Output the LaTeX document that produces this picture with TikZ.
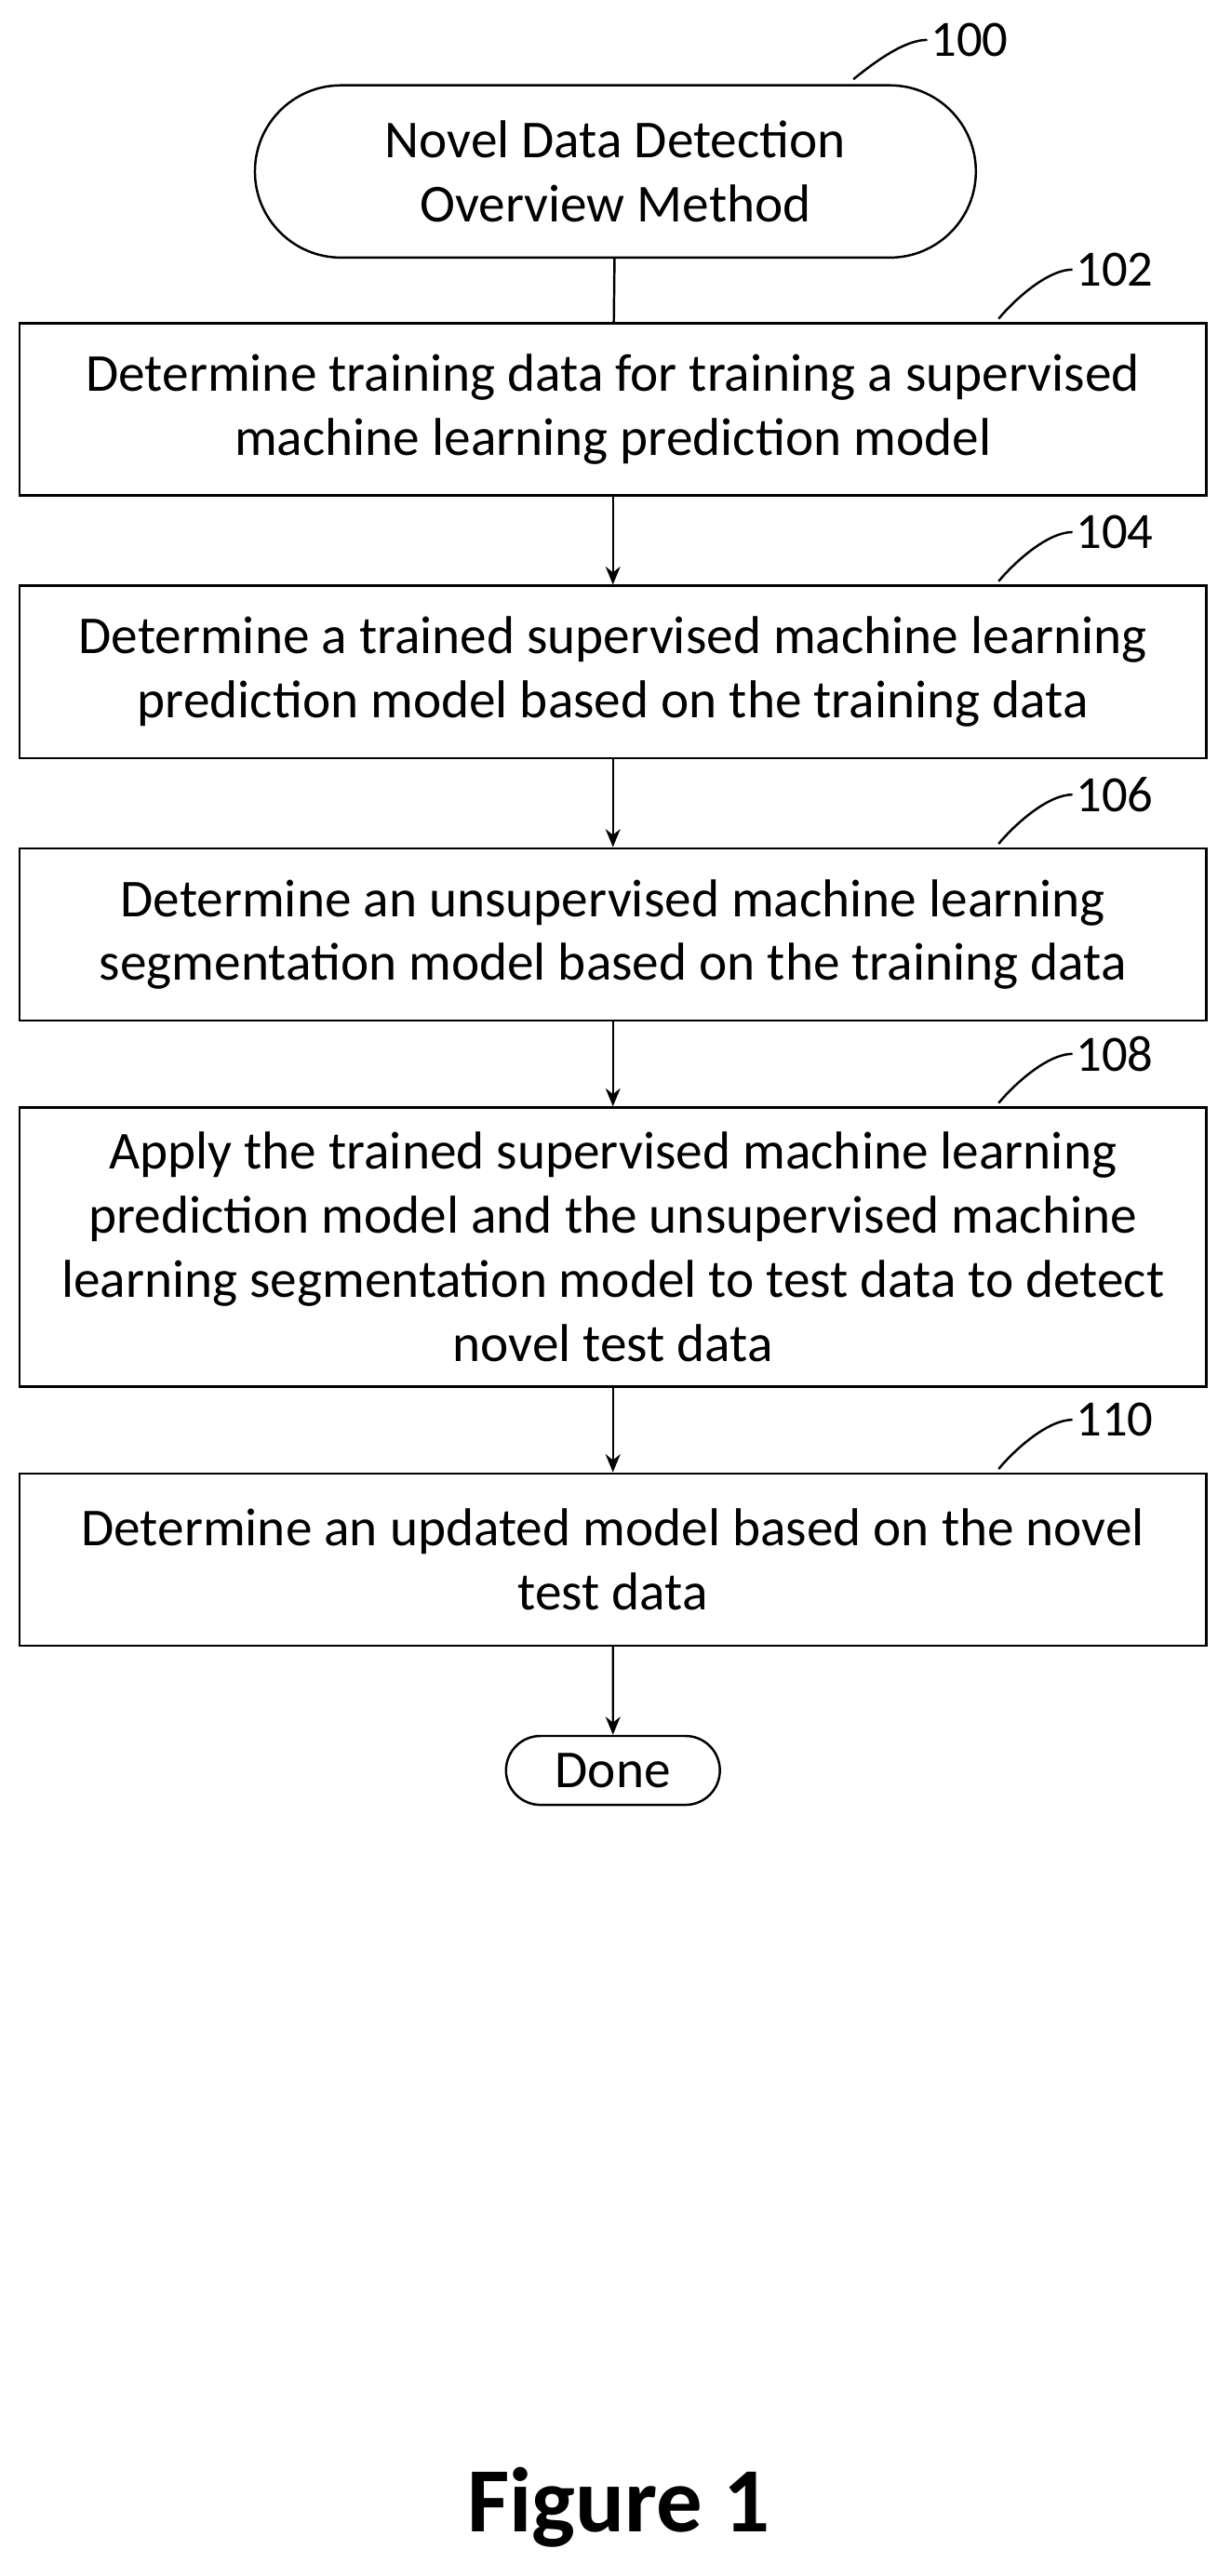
\documentclass[tikz,border=0pt]{standalone}
\usepackage{fontspec}
\setmainfont{Carlito}
\usetikzlibrary{shapes.misc,arrows.meta}
\begin{document}
\begin{tikzpicture}[x=1pt,y=-1pt,
  box/.style={draw,line width=1.4pt,minimum width=723pt,align=center,font=\fontsize{32.5}{39}\selectfont,inner sep=0pt},
  term/.style={draw,line width=1.4pt,rounded rectangle,align=center,font=\fontsize{32.5}{39}\selectfont},
  arr/.style={-{Stealth[length=11pt,width=9pt]},line width=1.4pt},
  lead/.style={line width=1.4pt},
  lab/.style={font=\fontsize{31}{36}\selectfont}]
\useasboundingbox (0,0) rectangle (750,1570);
\node[term,minimum width=446pt,minimum height=105pt] (s) at (375,104.5) {Novel Data Detection\\Overview Method};
\node[box,minimum height=105pt] (b102) at (373.5,249.5) {Determine training data for training a supervised\\machine learning prediction model};
\node[box,minimum height=105pt] (b104) at (373.5,409.5) {Determine a trained supervised machine learning\\prediction model based on the training data};
\node[box,minimum height=105pt] (b106) at (373.5,569.5) {Determine an unsupervised machine learning\\segmentation model based on the training data};
\node[box,minimum height=170pt] (b108) at (373.5,760) {Apply the trained supervised machine learning\\prediction model and the unsupervised machine\\learning segmentation model to test data to detect\\novel test data};
\node[box,minimum height=105pt] (b110) at (373.5,950.5) {Determine an updated model based on the novel\\test data};
\node[term,minimum width=137pt,minimum height=42pt] (d) at (373.5,1079) {Done};
\draw[lead] (s.north) ++(145,-3) coordinate (c0) .. controls +(10,-8) and +(-15,0) .. ++(45,-24) coordinate (e0);
\node[lab,anchor=west,inner sep=2pt] (l100) at (e0) {100};
\foreach \b/\n in {b102/102,b104/104,b106/106,b108/108,b110/110}{
  \draw[lead] (\b.north) ++(235,-2) coordinate (c\n) .. controls +(10,-12) and +(-15,0) .. ++(45,-30) coordinate (e\n);
  \node[lab,anchor=west,inner sep=2pt] (l\n) at (e\n) {\n};
}
\draw[lead] (s) -- (b102);
\draw[arr] (b102) -- (b104);
\draw[arr] (b104) -- (b106);
\draw[arr] (b106) -- (b108);
\draw[arr] (b108) -- (b110);
\draw[arr] (b110) -- (d);
\node[font=\bfseries\fontsize{56}{64}\selectfont] (fig) at (377,1528) {Figure 1};
\end{tikzpicture}
\end{document}
